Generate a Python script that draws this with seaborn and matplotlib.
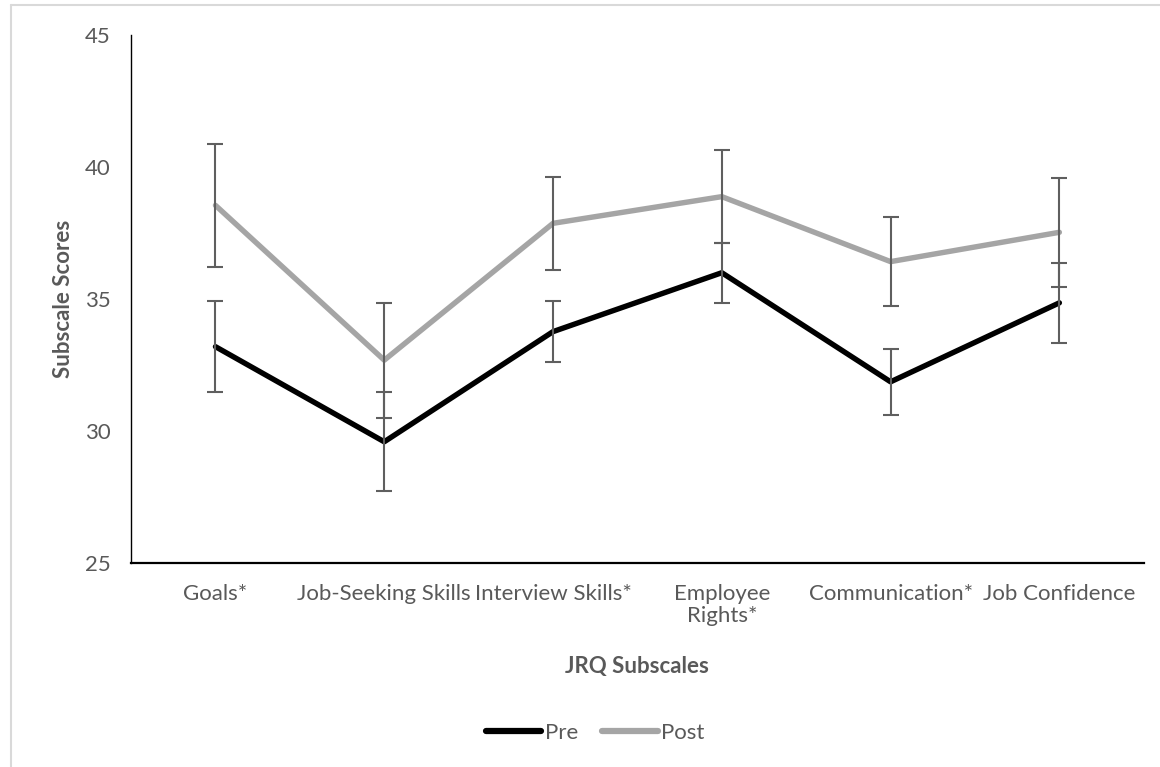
import numpy as np
import pandas as pd
import seaborn as sns
import matplotlib.pyplot as plt
from matplotlib.lines import Line2D

# Значения
subscales = ["Goals*", "Job-Seeking Skills", "Interview Skills*",
             "Employee\nRights*", "Communication*", "Job Confidence"]
pre_mean = [33.2, 29.6, 33.77, 36.0, 31.87, 34.86]
post_mean = [38.55, 32.69, 37.87, 38.88, 36.42, 37.53]
pre_err = [1.73, 1.88, 1.16, 1.14, 1.26, 1.51]
post_err = [2.32, 2.18, 1.75, 1.76, 1.68, 2.06]
yticks = [25, 30, 35, 40, 45]

sns.set_theme(style="white")
plt.rcParams['font.family'] = ['Lato', 'DejaVu Sans']

df = pd.concat([
    pd.DataFrame({"Subscale": subscales, "Score": pre_mean, "Err": pre_err, "Time": "Pre"}),
    pd.DataFrame({"Subscale": subscales, "Score": post_mean, "Err": post_err, "Time": "Post"}),
], ignore_index=True)

fig = plt.figure(figsize=(11.6, 7.67), dpi=100)
ax = fig.add_axes([0.113, 0.2656, 0.873, 0.6888])

colors = {"Pre": "#000000", "Post": "#A5A5A5"}
sns.lineplot(data=df, x="Subscale", y="Score", hue="Time", palette=colors,
             linewidth=3.9, sort=False, legend=False, ax=ax, zorder=2)

# error bars
for t in ["Pre", "Post"]:
    d = df[df["Time"] == t]
    ax.errorbar(np.arange(len(subscales)), d["Score"], yerr=d["Err"], fmt="none",
                ecolor="#5f5f5f", elinewidth=1.5, capsize=6, capthick=1.5, zorder=3)

ax.set_xlim(-0.5, len(subscales) - 0.5)
ax.set_ylim(25, 45)
ax.set_yticks(yticks)
ax.set_xticks(np.arange(len(subscales)))
ax.set_xticklabels(subscales, color="#595959", fontsize=16, linespacing=1.1, va="top")
ax.tick_params(axis="y", labelcolor="#595959", labelsize=16, length=0, pad=24)
ax.tick_params(axis="x", length=0, pad=15)
for lab in ax.get_yticklabels():
    lab.set_horizontalalignment("center")

for s in ["top", "right"]:
    ax.spines[s].set_visible(False)
ax.spines["left"].set_color("black")
ax.spines["left"].set_linewidth(1.0)
ax.spines["bottom"].set_color("black")
ax.spines["bottom"].set_linewidth(1.6)

ax.set_xlabel("JRQ Subscales", fontsize=16, fontweight="bold", color="#595959", labelpad=22)
ax.set_ylabel("Subscale Scores", fontsize=16, fontweight="bold", color="#595959", labelpad=8)

handles = [Line2D([], [], color=colors["Pre"], linewidth=4.5, solid_capstyle="round"),
           Line2D([], [], color=colors["Post"], linewidth=4.5, solid_capstyle="round")]
fig.legend(handles, ["Pre", "Post"], loc="center", bbox_to_anchor=(0.513, 0.044),
           ncol=2, frameon=False, fontsize=16, handlelength=2.5, handletextpad=0.15,
           columnspacing=1.1, labelcolor="#595959")

# рамка диаграммы
fig.add_artist(Line2D([11 / 1160, 11 / 1160], [0, 1 - 5 / 767], color="#D9D9D9", linewidth=1.5))
fig.add_artist(Line2D([11 / 1160, 1], [1 - 5 / 767, 1 - 5 / 767], color="#D9D9D9", linewidth=1.5))

fig.savefig("out.png", dpi=100)
